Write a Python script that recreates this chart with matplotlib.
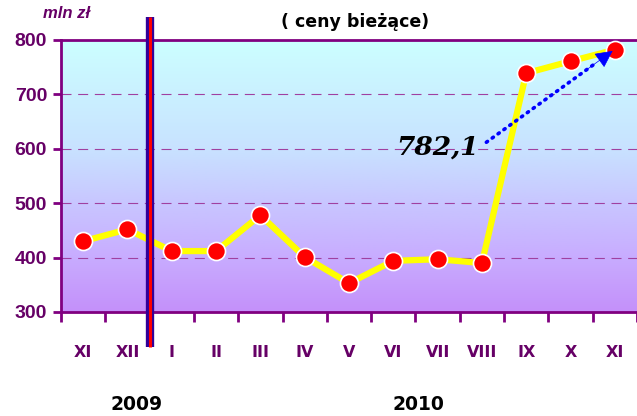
import matplotlib
matplotlib.use("Agg")
import matplotlib.pyplot as plt
import numpy as np
from matplotlib.colors import LinearSegmentedColormap

# dane z wykresu
months = ['XI', 'XII', 'I', 'II', 'III', 'IV', 'V', 'VI', 'VII', 'VIII', 'IX', 'X', 'XI']
values = [430, 452, 412, 412, 478, 401, 353, 394, 397, 390, 739, 761, 782.1]
years = ['2009', '2010']
y_ticks = [300, 400, 500, 600, 700, 800]

PURPLE = '#800080'
LABEL = '#660066'

fig = plt.figure(figsize=(6.37, 4.16), dpi=100)
ax = fig.add_axes([61 / 637, 1 - 312 / 416, 1 - 61 / 637, (312 - 40) / 416])

x = np.arange(len(months))
ax.set_xlim(-0.5, len(months) - 0.5)
ax.set_ylim(300, 800)

# tlo - gradient od jasnego turkusu (gora) do fioletu (dol)
cmap = LinearSegmentedColormap.from_list(
    'bg', [(0, '#ccffff'), (0.4, '#c8e2ff'), (0.6, '#c8c6ff'), (0.8, '#c8acff'),
           (1.0, '#c490fa')])
grad = np.linspace(0, 1, 256).reshape(-1, 1)
ax.imshow(grad, cmap=cmap, aspect='auto', extent=(-0.5, len(months) - 0.5, 300, 800),
          zorder=0)

for yv in y_ticks[1:-1]:
    ax.axhline(yv, color='#a040a0', lw=0.8, dashes=(9, 6), zorder=1)

ax.plot(x, values, color='#ffff00', lw=4.5, zorder=3, solid_joinstyle='round')
ax.plot(x, values, 'o', color='#ff0000', markersize=13, markeredgecolor='white',
        markeredgewidth=1.2, zorder=4)

# pionowa kreska miedzy latami
ax.plot([1.5, 1.5], [236, 842], color='#330099', lw=6, clip_on=False, zorder=5,
        solid_capstyle='butt')
ax.plot([1.5, 1.5], [236, 842], color='#ff0000', lw=2.2, clip_on=False, zorder=6,
        solid_capstyle='butt')

# osie
ax.spines['right'].set_visible(False)
for s in ['left', 'top', 'bottom']:
    ax.spines[s].set_color(PURPLE)
    ax.spines[s].set_linewidth(2)

ax.set_yticks(y_ticks)
ax.set_yticklabels([str(v) for v in y_ticks], fontsize=14, fontweight='bold',
                   color=LABEL, family='Liberation Sans')
ax.tick_params(axis='y', length=6, width=2, color=PURPLE, pad=4)

ax.set_xticks(np.arange(-0.5, len(months), 1.0))
ax.set_xticklabels([])
ax.set_xticks(x, minor=True)
ax.set_xticklabels(months, minor=True, fontsize=11.5, fontweight='bold', color=LABEL,
                   family='DejaVu Sans')
ax.tick_params(axis='x', which='major', length=7, width=2, color=PURPLE, direction='out')
ax.tick_params(axis='x', which='minor', length=0, pad=24)

# etykieta ostatniej wartosci ze strzalka
last = values[-1]
ax.text(8.0, 603, f'{last:.1f}'.replace('.', ','), fontsize=19, fontweight='bold',
        fontstyle='italic', family='DejaVu Serif', ha='center', va='center', zorder=7)
x0, y0 = 9.1, 612
x1, y1 = 11.95, 780
t = 0.86
ax.plot([x0, x0 + t * (x1 - x0)], [y0, y0 + t * (y1 - y0)], color='#0000ff', lw=2.6,
        linestyle=(0, (0.4, 1.6)), dash_capstyle='round', zorder=7)
ax.annotate('', xy=(x1, y1), xytext=(x0 + 0.8 * (x1 - x0), y0 + 0.8 * (y1 - y0)),
            arrowprops=dict(arrowstyle='-|>,head_length=1.1,head_width=0.55',
                            color='#0000ff', lw=0.5, shrinkA=0, shrinkB=0),
            zorder=7)

fig.text(67 / 637, 1 - 14 / 416, 'mln zł', fontsize=12, fontweight='bold',
         fontstyle='italic', color=LABEL, ha='center', va='center', family='Liberation Sans')
fig.text(355 / 637, 1 - 22 / 416, '( ceny bieżące)', fontsize=12.5, fontweight='heavy',
         color='black', ha='center', va='center', family='DejaVu Sans')
fig.text(137 / 637, 1 - 405 / 416, years[0], fontsize=13.5, fontweight='bold',
         ha='center', va='center', family='DejaVu Sans')
fig.text(418 / 637, 1 - 405 / 416, years[1], fontsize=13.5, fontweight='bold',
         ha='center', va='center', family='DejaVu Sans')

fig.savefig('out.png', dpi=100)
